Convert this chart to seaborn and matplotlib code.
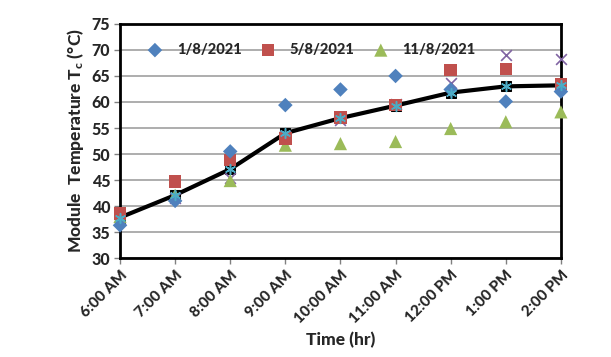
import matplotlib
matplotlib.use("Agg")
import matplotlib.pyplot as plt
import numpy as np
import pandas as pd
import seaborn as sns

times = ["6:00 AM", "7:00 AM", "8:00 AM", "9:00 AM", "10:00 AM",
         "11:00 AM", "12:00 PM", "1:00 PM", "2:00 PM"]

day_1 = [36.3, 41.0, 50.5, 59.4, 62.4, 65.0, 62.4, 60.1, 62.0]
day_5 = [38.6, 44.7, 48.8, 53.0, 57.0, 59.4, 66.2, 66.3, 63.4]
day_11 = [38.0, 42.1, 44.9, 51.7, 52.0, 52.4, 54.9, 56.2, 58.1]
other_x = [37.5, 41.5, 45.3, 53.5, 56.5, 59.7, 63.7, 69.0, 68.2]
average = [37.8, 42.1, 47.1, 54.0, 56.9, 59.3, 61.8, 63.0, 63.2]

sns.set_theme(style="white")
plt.rcParams["font.family"] = ["Lato", "DejaVu Sans"]
plt.rcParams["font.weight"] = "black"
plt.rcParams["mathtext.fontset"] = "custom"
plt.rcParams["mathtext.rm"] = "Lato:black"
plt.rcParams["mathtext.default"] = "rm"

df = pd.DataFrame({"pos": np.arange(len(times)), "d1": day_1, "d5": day_5,
                   "d11": day_11, "dx": other_x, "avg": average})

fig = plt.figure(figsize=(6.11, 3.57), dpi=100)
ax = fig.add_axes([0.1964, 0.277, 0.7216, 0.656])

ax.yaxis.grid(True, color="#a0a0a0", linewidth=1.2)
ax.set_axisbelow(True)

sns.lineplot(data=df, x="pos", y="avg", ax=ax, color="black", linewidth=3,
             marker="s", markersize=7, markeredgecolor="black", zorder=3)
sns.scatterplot(data=df, x="pos", y="dx", ax=ax, marker="x", s=60,
                color="#8064A2", linewidth=1.2, zorder=4, clip_on=False)
sns.scatterplot(data=df, x="pos", y="d11", ax=ax, marker="^", s=90,
                color="#9BBB59", edgecolor="none", zorder=4, clip_on=False,
                label="11/8/2021")
sns.scatterplot(data=df, x="pos", y="d5", ax=ax, marker="s", s=80,
                color="#C0504D", edgecolor="none", zorder=4, clip_on=False,
                label="5/8/2021")
sns.scatterplot(data=df, x="pos", y="d1", ax=ax, marker="D", s=55,
                color="#4F81BD", edgecolor="none", zorder=5, clip_on=False,
                label="1/8/2021")
sns.scatterplot(data=df, x="pos", y="avg", ax=ax, marker=(6, 2, 0), s=50,
                color="#4BACC6", linewidth=1.1, zorder=6, clip_on=False)

ax.set_xlim(0, len(times) - 1)
ax.set_ylim(30, 75)
ax.set_yticks(np.arange(30, 76, 5))
ax.set_xticks(df["pos"])
ax.set_xticklabels(times, rotation=45, ha="right", rotation_mode="anchor",
                   fontsize=11, fontweight="black")
for lab in ax.get_yticklabels():
    lab.set_fontsize(11.5)
    lab.set_fontweight("black")

ax.tick_params(axis="both", direction="out", length=4, width=1,
               color="#808080", bottom=True, left=True, pad=3)
for sp in ax.spines.values():
    sp.set_color("black")
    sp.set_linewidth(2)

ax.set_xlabel("Time (hr)", fontsize=12.5, fontweight="black", labelpad=4)
ax.set_ylabel("Module  Temperature T$_{c}$ (°C)", fontsize=12.5,
              fontweight="black", labelpad=4)

handles, labels = ax.get_legend_handles_labels()
order = [labels.index(l) for l in ["1/8/2021", "5/8/2021", "11/8/2021"]]
ax.legend([handles[i] for i in order], [labels[i] for i in order],
          loc="center", bbox_to_anchor=(0.43, (70 - 30) / 45), ncol=3,
          frameon=False, prop={"weight": "black", "size": 10.5},
          columnspacing=1.0, handletextpad=0.7, handlelength=1.6,
          borderaxespad=0)

fig.savefig("out.png", dpi=100)
